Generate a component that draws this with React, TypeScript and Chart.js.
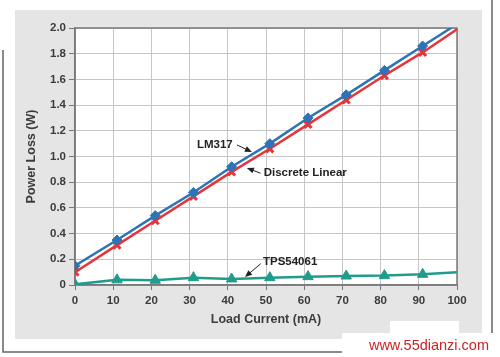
import React, { useEffect, useRef } from "react";
import { Chart, registerables } from "chart.js";

Chart.register(...registerables);

const loadCurrent = [0, 11, 21, 31, 41, 51, 61, 71, 81, 91, 100];
const lm317 = [0.15, 0.35, 0.54, 0.72, 0.92, 1.1, 1.3, 1.48, 1.67, 1.86, 2.03];
const discreteLinear = [0.1, 0.31, 0.5, 0.69, 0.88, 1.06, 1.25, 1.44, 1.63, 1.81, 1.99];
const tps54061 = [0.005, 0.04, 0.037, 0.057, 0.047, 0.057, 0.065, 0.07, 0.073, 0.083, 0.099];

const xTickLabels = ["0", "10", "20", "30", "40", "50", "60", "70", "80", "90", "100"];
const yTickLabels = ["0", "0.2", "0.4", "0.6", "0.8", "1.0", "1.2", "1.4", "1.6", "1.8", "2.0"];

const xTitle = "Load Current (mA)";
const yTitle = "Power Loss (W)";
const watermark = "www.55dianzi.com";

// annotations in data units: text anchor, arrow start, arrow end
const annotations = [
  { text: "LM317", tx: 36.6, ty: 1.09, align: "center", ax0: 42.4, ay0: 1.09, ax1: 46.3, ay1: 1.035 },
  { text: "Discrete Linear", tx: 49.4, ty: 0.87, align: "left", ax0: 48.6, ay0: 0.87, ax1: 45.0, ay1: 0.91 },
  { text: "TPS54061", tx: 49.2, ty: 0.18, align: "left", ax0: 48.6, ay0: 0.165, ax1: 44.5, ay1: 0.062 },
];

const FONT = "'Liberation Sans', Arial, Helvetica, sans-serif";

function toXY(ys: number[]) {
  return loadCurrent.map((x, i) => ({ x, y: ys[i] }));
}

const framePlugin = {
  id: "frame",
  beforeDraw(chart: any) {
    const { ctx, chartArea } = chart;
    ctx.save();
    ctx.fillStyle = "#ffffff";
    ctx.fillRect(0, 0, chart.width, chart.height);
    ctx.fillStyle = "#e5e5e5";
    ctx.fillRect(15, 10, 467, 329);
    ctx.fillStyle = "#ffffff";
    ctx.fillRect(chartArea.left, chartArea.top, chartArea.right - chartArea.left, chartArea.bottom - chartArea.top);
    ctx.strokeStyle = "#666666";
    ctx.lineWidth = 1.5;
    ctx.beginPath();
    ctx.moveTo(3, 50);
    ctx.lineTo(3, 352);
    ctx.lineTo(492, 352);
    ctx.moveTo(492, 0);
    ctx.lineTo(492, 352);
    ctx.stroke();
    ctx.restore();
  },
  beforeDatasetsDraw(chart: any) {
    const { ctx, chartArea } = chart;
    ctx.save();
    ctx.strokeStyle = "#7a7a7a";
    ctx.lineWidth = 1.5;
    ctx.strokeRect(chartArea.left, chartArea.top, chartArea.right - chartArea.left, chartArea.bottom - chartArea.top);
    ctx.restore();
  },
  afterDraw(chart: any) {
    const { ctx } = chart;
    const xs = chart.scales.x;
    const ys = chart.scales.y;
    ctx.save();
    ctx.font = `bold 11.5px ${FONT}`;
    ctx.fillStyle = "#222222";
    ctx.textBaseline = "middle";
    annotations.forEach((a) => {
      ctx.textAlign = a.align;
      ctx.fillText(a.text, xs.getPixelForValue(a.tx), ys.getPixelForValue(a.ty));
      const x0 = xs.getPixelForValue(a.ax0);
      const y0 = ys.getPixelForValue(a.ay0);
      const x1 = xs.getPixelForValue(a.ax1);
      const y1 = ys.getPixelForValue(a.ay1);
      const ang = Math.atan2(y1 - y0, x1 - x0);
      const hl = 7;
      const hw = 3;
      ctx.strokeStyle = "#222222";
      ctx.lineWidth = 1;
      ctx.beginPath();
      ctx.moveTo(x0, y0);
      ctx.lineTo(x1 - Math.cos(ang) * hl * 0.6, y1 - Math.sin(ang) * hl * 0.6);
      ctx.stroke();
      ctx.beginPath();
      ctx.moveTo(x1, y1);
      ctx.lineTo(x1 - Math.cos(ang) * hl - Math.sin(ang) * hw, y1 - Math.sin(ang) * hl + Math.cos(ang) * hw);
      ctx.lineTo(x1 - Math.cos(ang) * hl + Math.sin(ang) * hw, y1 - Math.sin(ang) * hl - Math.cos(ang) * hw);
      ctx.closePath();
      ctx.fill();
    });
    // watermark
    ctx.fillStyle = "#ffffff";
    ctx.fillRect(342, 333, 158, 24);
    ctx.fillRect(390, 321, 69, 12);
    ctx.fillStyle = "#cc2424";
    ctx.font = `14.5px ${FONT}`;
    ctx.textAlign = "right";
    ctx.textBaseline = "middle";
    ctx.fillText(watermark, 489, 346);
    ctx.restore();
  },
};

export default function App() {
  const ref = useRef<HTMLCanvasElement | null>(null);
  useEffect(() => {
    if (!ref.current) return;
    const lastIdx = loadCurrent.length - 1;
    const radius = (r: number) => (c: any) => (c.dataIndex === lastIdx ? 0 : r);
    const tickFont = { family: FONT, weight: "bold", size: 11.5 };
    const titleFont = { family: FONT, weight: "bold", size: 12.5 };
    const chart = new Chart(ref.current, {
      type: "line",
      data: {
        datasets: [
          {
            label: "LM317",
            data: toXY(lm317),
            borderColor: "#2c74b6",
            backgroundColor: "#2c74b6",
            borderWidth: 2.5,
            pointStyle: "rectRot",
            pointRadius: radius(5),
            pointBorderWidth: 1,
          },
          {
            label: "Discrete Linear",
            data: toXY(discreteLinear),
            borderColor: "#e4343c",
            backgroundColor: "#e4343c",
            borderWidth: 2.5,
            pointStyle: "crossRot",
            pointRadius: radius(5),
            pointBorderWidth: 3,
          },
          {
            label: "TPS54061",
            data: toXY(tps54061),
            borderColor: "#1f9c8c",
            backgroundColor: "#1f9c8c",
            borderWidth: 2.5,
            pointStyle: "triangle",
            pointRadius: radius(6),
            pointBorderWidth: 1,
          },
        ],
      },
      options: {
        responsive: false,
        animation: false,
        devicePixelRatio: 1,
        layout: { padding: { left: 0, top: 28, right: 43, bottom: 0 } },
        plugins: { legend: { display: false }, tooltip: { enabled: false } },
        scales: {
          x: {
            type: "linear",
            min: 0,
            max: 100,
            ticks: {
              stepSize: 10,
              padding: 4,
              maxRotation: 0,
              color: "#3c3c3c",
              font: tickFont,
              callback: (_v: any, i: number) => xTickLabels[i],
            },
            grid: { color: "#c6c6c6", lineWidth: 1, tickLength: 5, tickColor: "#777777" },
            border: { color: "#7a7a7a", width: 1.5 },
            title: {
              display: true,
              text: xTitle,
              color: "#3c3c3c",
              font: titleFont,
              padding: { top: 0, bottom: 30 },
            },
            afterFit: (s: any) => {
              s.height = 72;
            },
          },
          y: {
            type: "linear",
            min: 0,
            max: 2,
            ticks: {
              stepSize: 0.2,
              padding: 3,
              color: "#3c3c3c",
              font: tickFont,
              callback: (_v: any, i: number) => yTickLabels[i],
            },
            grid: { color: "#c6c6c6", lineWidth: 1, tickLength: 6, tickColor: "#777777" },
            border: { color: "#7a7a7a", width: 1.5 },
            title: {
              display: true,
              text: yTitle,
              color: "#3c3c3c",
              font: titleFont,
              padding: { top: 24, bottom: 0 },
            },
            afterFit: (s: any) => {
              s.width = 75;
            },
          },
        },
      },
      plugins: [framePlugin],
    } as any);
    return () => chart.destroy();
  }, []);
  return (
    <div style={{ position: "fixed", left: 0, top: 0, width: 500, height: 357, background: "#fff" }}>
      <canvas ref={ref} width={500} height={357} style={{ display: "block", width: 500, height: 357 }} />
    </div>
  );
}
